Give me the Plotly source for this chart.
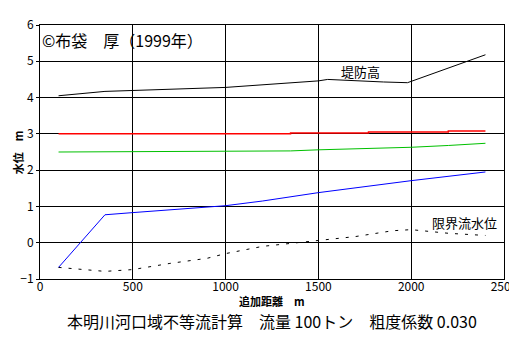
import plotly.graph_objects as go

# 堤防高 (levee height)
levee_x = [100, 350, 1000, 1200, 1500, 1550, 1700, 1850, 1980, 2400]
levee_y = [4.05, 4.17, 4.28, 4.35, 4.46, 4.50, 4.46, 4.43, 4.41, 5.18]

# red line
red_x = [100, 1350, 1350, 1770, 1770, 2200, 2200, 2400]
red_y = [3.00, 3.00, 3.027, 3.027, 3.053, 3.053, 3.08, 3.08]

# green line
green_x = [100, 470, 1350, 1500, 1750, 2000, 2200, 2400]
green_y = [2.50, 2.51, 2.53, 2.56, 2.59, 2.63, 2.68, 2.74]

# blue water level
blue_x = [100, 350, 500, 1000, 1200, 1500, 2000, 2400]
blue_y = [-0.68, 0.77, 0.83, 1.02, 1.15, 1.38, 1.71, 1.95]

# 限界流水位 (critical flow level)
crit_x = [100, 350, 500, 700, 900, 1000, 1200, 1500, 1700, 1900, 2000, 2200, 2400]
crit_y = [-0.68, -0.79, -0.74, -0.57, -0.43, -0.30, -0.10, 0.05, 0.17, 0.33, 0.36, 0.26, 0.20]

x_ticks = [0, 500, 1000, 1500, 2000, 2500]
y_ticks = [-1, 0, 1, 2, 3, 4, 5, 6]

FONT = "Noto Sans CJK JP"

fig = go.Figure()
fig.add_trace(go.Scatter(x=levee_x, y=levee_y, mode="lines", line=dict(color="black", width=1)))
fig.add_trace(go.Scatter(x=red_x, y=red_y, mode="lines", line=dict(color="#ff0000", width=1.5)))
fig.add_trace(go.Scatter(x=green_x, y=green_y, mode="lines", line=dict(color="#00c000", width=1)))
fig.add_trace(go.Scatter(x=blue_x, y=blue_y, mode="lines", line=dict(color="#0000ff", width=1)))
fig.add_trace(go.Scatter(x=crit_x, y=crit_y, mode="lines", line=dict(color="black", width=1, dash="3px,7px")))

fig.add_annotation(x=1729, y=4.72, text="堤防高", showarrow=False, font=dict(family=FONT, size=13, color="black"))
fig.add_annotation(x=2288, y=0.57, text="限界流水位", showarrow=False, font=dict(family=FONT, size=13, color="black"))
fig.add_annotation(x=0.0, y=0.995, xref="paper", yref="paper", xanchor="left", yanchor="top",
                   text="©布袋　厚（1999年）", showarrow=False, font=dict(family=FONT, size=16, color="black"))
fig.add_annotation(x=0.5, y=-0.165, xref="paper", yref="paper", xanchor="center", yanchor="middle",
                   text="本明川河口域不等流計算　流量 100トン　粗度係数 0.030", showarrow=False,
                   font=dict(family=FONT, size=16, color="black"))
fig.add_annotation(x=0.5, y=-0.085, xref="paper", yref="paper", xanchor="center", yanchor="middle",
                   text="<b>追加距離　m</b>", showarrow=False,
                   font=dict(family=FONT, size=11, color="black"))
fig.add_annotation(x=-0.047, y=0.5, xref="paper", yref="paper", xanchor="center", yanchor="middle",
                   text="<b>水位　m</b>", showarrow=False, textangle=-90,
                   font=dict(family=FONT, size=11, color="black"))

fig.update_layout(
    width=517, height=338,
    margin=dict(l=32, r=15, t=7, b=67),
    paper_bgcolor="white", plot_bgcolor="white",
    showlegend=False,
    font=dict(family=FONT, size=12, color="black"),
    xaxis=dict(range=[0, 2500], tickvals=x_ticks, showgrid=True, gridcolor="black", gridwidth=1,
               showline=True, linecolor="black", mirror=True, zeroline=False, ticks="",
               ticklabeloverflow="allow", ticklabelstandoff=-3,
               tickfont=dict(family=FONT, size=12)),
    yaxis=dict(range=[-1, 6], tickvals=y_ticks, showgrid=True, gridcolor="black", gridwidth=1,
               showline=True, linecolor="black", mirror=True, zeroline=False, ticks="outside", ticklen=3,
               tickcolor="black", ticklabeloverflow="allow",
               tickfont=dict(family=FONT, size=12)),
)

fig.write_html("out.html")
